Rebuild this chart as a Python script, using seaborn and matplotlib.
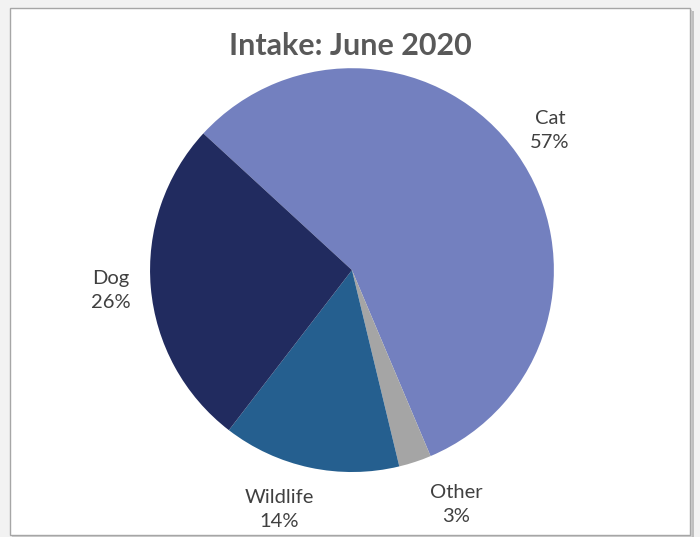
"""Pie chart of June 2020 intake by animal type."""
import matplotlib
matplotlib.use("Agg")
import matplotlib.pyplot as plt
import seaborn as sns
from matplotlib.patches import Rectangle

categories = ["Cat", "Other", "Wildlife", "Dog"]
shares = [56.8, 2.6, 14.2, 26.4]
colors = ["#7380BF", "#A5A5A5", "#255F8F", "#212B5F"]

sns.set_theme(style="white")
plt.rcParams["font.family"] = ["Lato", "DejaVu Sans"]

fig = plt.figure(figsize=(7, 5.37), dpi=100)
fig.patch.set_facecolor("#F2F2F2")

# card frame with a soft shadow
for off, col in [(0.006, "#BFBFBF"), (0.003, "#D0D0D0")]:
    fig.patches.append(Rectangle((0.014 + off, 0.003 - off), 0.972, 0.982,
                                 transform=fig.transFigure, facecolor=col,
                                 edgecolor="none", zorder=0))
fig.patches.append(Rectangle((0.014, 0.003), 0.972, 0.982,
                             transform=fig.transFigure, facecolor="white",
                             edgecolor="#A6A6A6", lw=1.0, zorder=1))

ax = fig.add_axes([0.2143, 0.121, 0.577, 0.752])
ax.set_zorder(3)
labels = [f"{c}\n{v:.0f}%" for c, v in zip(categories, shares)]
wedges, texts = ax.pie(shares, labels=labels, colors=colors, startangle=137.4,
                       counterclock=False, labeldistance=1.2,
                       wedgeprops=dict(linewidth=0),
                       textprops=dict(fontsize=14.5, color="#404040",
                                      linespacing=1.5))
for t in texts:
    t.set_ha("center")
    t.set_va("center")
# Excel pushes the small slice labels outward
x, y = texts[1].get_position()
texts[1].set_position((x + 0.14, y - 0.02))
x, y = texts[2].get_position()
texts[2].set_position((x - 0.11, y - 0.01))

ax.set_xlim(-1, 1)
ax.set_ylim(-1, 1)
ax.set_aspect("equal")
ax.axis("off")

title = fig.text(0.5, 0.915, "Intake: June 2020", ha="center", va="center",
                 fontsize=22, fontweight="bold", color="#595959")
title.set_zorder(3)

fig.savefig("out.png", dpi=100, facecolor=fig.get_facecolor())
